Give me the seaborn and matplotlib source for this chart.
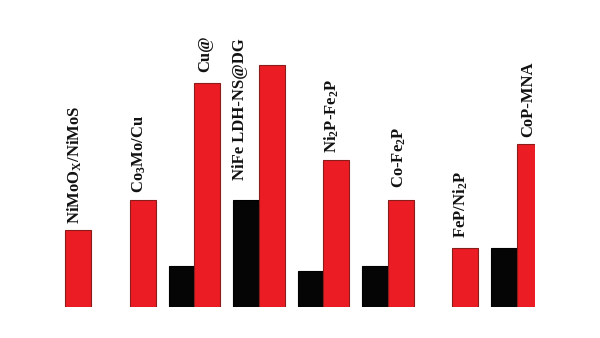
import numpy as np
import pandas as pd
import matplotlib
matplotlib.use("Agg")
import matplotlib.pyplot as plt
import seaborn as sns

categories = ["NiMoO$_\\mathregular{X}$/NiMoS", "Co$_\\mathregular{3}$Mo/Cu", "Cu@",
              "NiFe LDH-NS@DG", "Ni$_\\mathregular{2}$P-Fe$_\\mathregular{2}$P",
              "Co-Fe$_\\mathregular{2}$P", "FeP/Ni$_\\mathregular{2}$P", "CoP-MNA"]
black_values = [np.nan, np.nan, 41, 107, 36, 41, np.nan, 59]
red_values = [77, 107, 224, 242, 147, 107, 59, 163]
series = ["black", "red"]

# label layout: anchor bar, gap above it (px), horizontal shift (px)
label_anchor = ["red", "red", "red", "black", "red", "red", "red", "red"]
label_gap = [6, 7, 11, 20, 7, 12, 10, 7]
label_dx = [-3, -3, -2, -6, -4, -1, -5, -2]

sns.set_style("white")
plt.rcParams["font.family"] = ["Liberation Serif", "DejaVu Serif"]
plt.rcParams["mathtext.default"] = "regular"

df = pd.DataFrame({
    "cat": categories * 2,
    "series": ["black"] * len(categories) + ["red"] * len(categories),
    "value": black_values + red_values,
})

fig = plt.figure(figsize=(6, 3.38), dpi=100)
ax = fig.add_axes([33 / 600, 31 / 338, (535 - 33) / 600, (307 - 30) / 338])
sns.barplot(data=df, x="cat", y="value", hue="series", hue_order=series,
            order=categories, palette={"black": "#050505", "red": "#ec1c24"},
            saturation=1, width=0.8, ax=ax, legend=False, errorbar=None)
for p in ax.patches:
    fc = p.get_facecolor()
    if fc[0] > 0.5:
        p.set_edgecolor("#8a1c1c")
    else:
        p.set_edgecolor("#000000")
    p.set_linewidth(0.8)

ax.set_xlim(-0.5, 7.28)
ax.set_ylim(0, 277)
ax.axis("off")

px = 72 / 100
for i, cat in enumerate(categories):
    if label_anchor[i] == "red":
        xc, yv = i + 0.2, red_values[i]
    else:
        xc, yv = i - 0.2, black_values[i]
    ax.annotate(cat, xy=(xc, yv), xytext=(label_dx[i] * px, label_gap[i] * px),
                textcoords="offset points", rotation=90, ha="center", va="bottom",
                fontsize=12, fontweight="bold", color="#111111",
                annotation_clip=False)

fig.savefig("out.png", dpi=100)
